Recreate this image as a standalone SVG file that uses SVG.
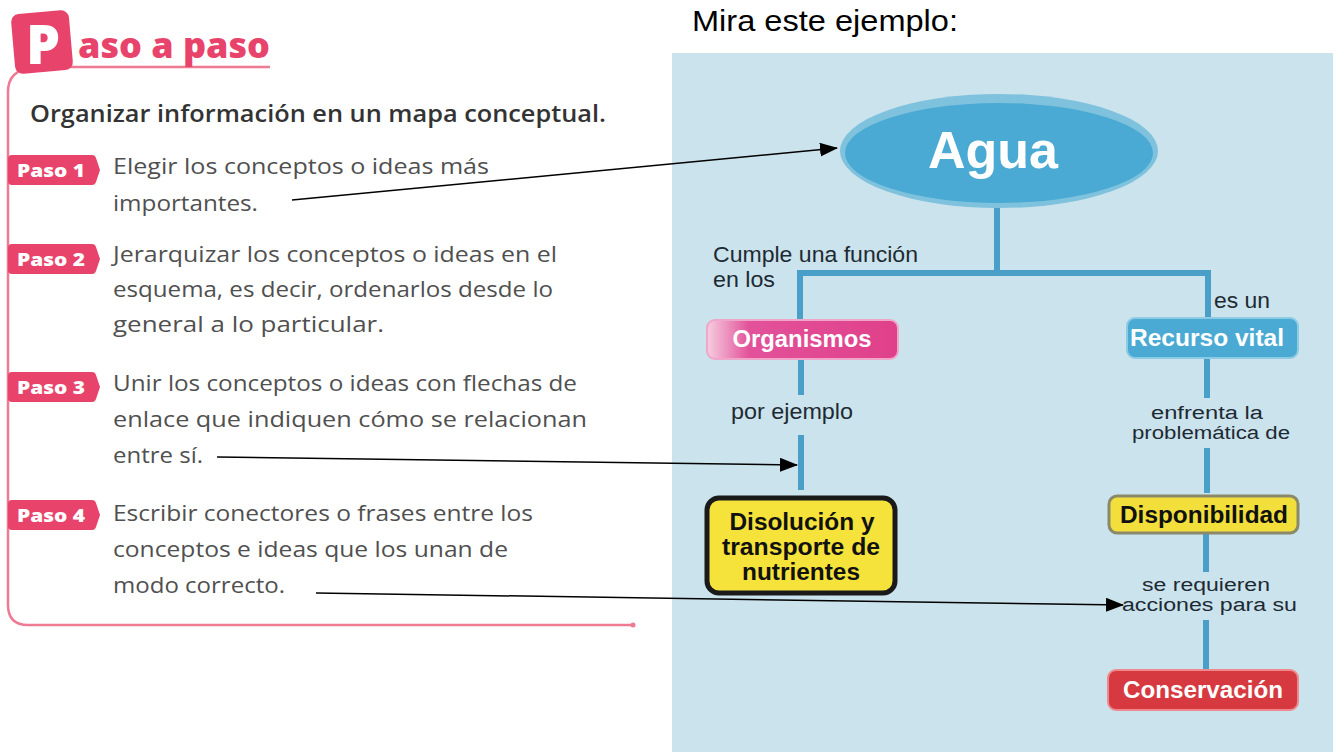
<svg xmlns="http://www.w3.org/2000/svg" width="1339" height="752" viewBox="0 0 1339 752">
<style>
.step{font-family:"Open Sans","Liberation Sans",sans-serif;font-size:22.5px;fill:#505050;}
.tagt{font-family:"Open Sans","Liberation Sans",sans-serif;font-size:18px;font-weight:800;fill:#fff;}
.lbl{font-family:"Liberation Sans",Arial,sans-serif;font-size:22px;fill:#1e2a33;}
.lbl2{font-family:"Liberation Sans",Arial,sans-serif;font-size:18px;fill:#1e2a33;}
.nodet{font-family:"Liberation Sans",Arial,sans-serif;font-size:23px;font-weight:bold;text-anchor:middle;}
.blue{stroke:#4a9fc9;stroke-width:6;fill:none;}
.arrow{stroke:#000;stroke-width:1.5;fill:none;marker-end:url(#ah);}
.tag{fill:#e8436b;}
</style>
<defs>
<marker id="ah" markerUnits="userSpaceOnUse" markerWidth="18" markerHeight="14" refX="17" refY="7" orient="auto">
<path d="M0 0 L18 7 L0 14 Z" fill="#000"/>
</marker>
<path id="tagshape" d="M4 0 H84 Q87 0 88 3 L92 15 L88 27 Q87 30 84 30 H4 Q0 30 0 26 V4 Q0 0 4 0 Z"/>
<linearGradient id="pink" x1="0" y1="0" x2="1" y2="0">
<stop offset="0" stop-color="#f6cde0"/>
<stop offset="0.22" stop-color="#e2529a"/>
<stop offset="1" stop-color="#e0408a"/>
</linearGradient>
</defs>
<rect width="1339" height="752" fill="#fff"/>

<g id="left-panel">
<path d="M32 68 Q8 70 8 92 L8 605 Q8 625 28 625 L633 625" fill="none" stroke="#ee7b93" stroke-width="2.5"/>
<circle cx="633" cy="625" r="2.5" fill="#ee7b93"/>
<line x1="70" y1="67" x2="270" y2="67" stroke="#ee7b93" stroke-width="2.5"/>
<rect x="13" y="12" width="58" height="60" rx="8" fill="#e8436b" transform="rotate(-5 42 42)"/>
<text x="43" y="64" font-family="'Open Sans','Liberation Sans',sans-serif" font-size="54" font-weight="800" fill="#fff" text-anchor="middle">P</text>
<text x="78" y="58" font-family="'Open Sans','Liberation Sans',sans-serif" font-size="35" font-weight="800" fill="#e8436b" textLength="192" lengthAdjust="spacingAndGlyphs">aso a paso</text>
<text x="30" y="122" font-family="'Open Sans','Liberation Sans',sans-serif" font-size="24" font-weight="600" fill="#333" textLength="576" lengthAdjust="spacingAndGlyphs">Organizar información en un mapa conceptual.</text>
</g>

<g id="paso1">
<use href="#tagshape" x="8" y="155" class="tag"/>
<text x="17" y="177" class="tagt" textLength="68" lengthAdjust="spacingAndGlyphs">Paso 1</text>
<text x="113" y="174" class="step" textLength="376" lengthAdjust="spacingAndGlyphs">Elegir los conceptos o ideas más</text>
<text x="113" y="211" class="step" textLength="145" lengthAdjust="spacingAndGlyphs">importantes.</text>
</g>
<g id="paso2">
<use href="#tagshape" x="8" y="244" class="tag"/>
<text x="17" y="266" class="tagt" textLength="68" lengthAdjust="spacingAndGlyphs">Paso 2</text>
<text x="113" y="262" class="step" textLength="444" lengthAdjust="spacingAndGlyphs">Jerarquizar los conceptos o ideas en el</text>
<text x="113" y="297" class="step" textLength="440" lengthAdjust="spacingAndGlyphs">esquema, es decir, ordenarlos desde lo</text>
<text x="113" y="332" class="step" textLength="271" lengthAdjust="spacingAndGlyphs">general a lo particular.</text>
</g>
<g id="paso3">
<use href="#tagshape" x="8" y="372" class="tag"/>
<text x="17" y="394" class="tagt" textLength="68" lengthAdjust="spacingAndGlyphs">Paso 3</text>
<text x="113" y="391" class="step" textLength="464" lengthAdjust="spacingAndGlyphs">Unir los conceptos o ideas con flechas de</text>
<text x="113" y="427" class="step" textLength="474" lengthAdjust="spacingAndGlyphs">enlace que indiquen cómo se relacionan</text>
<text x="113" y="463" class="step" textLength="90" lengthAdjust="spacingAndGlyphs">entre sí.</text>
</g>
<g id="paso4">
<use href="#tagshape" x="8" y="500" class="tag"/>
<text x="17" y="522" class="tagt" textLength="68" lengthAdjust="spacingAndGlyphs">Paso 4</text>
<text x="113" y="521" class="step" textLength="420" lengthAdjust="spacingAndGlyphs">Escribir conectores o frases entre los</text>
<text x="113" y="557" class="step" textLength="395" lengthAdjust="spacingAndGlyphs">conceptos e ideas que los unan de</text>
<text x="113" y="593" class="step" textLength="172" lengthAdjust="spacingAndGlyphs">modo correcto.</text>
</g>

<g id="right-panel">
<text x="692" y="31" font-family="'Liberation Sans',Arial,sans-serif" font-size="30" fill="#000" textLength="266" lengthAdjust="spacingAndGlyphs">Mira este ejemplo:</text>
<rect x="672" y="53" width="661" height="699" fill="#cbe3ec"/>
</g>

<g id="connectors">
<path class="blue" d="M997 205 V273 M800 320 V273 H1208 V320"/>
<path class="blue" d="M801 359 V395 M801 435 V490"/>
<path class="blue" d="M1207 358 V398 M1207 448 V493 M1206 533 V572 M1206 620 V670"/>
<line class="arrow" x1="292" y1="200" x2="837" y2="148"/>
<line class="arrow" x1="217" y1="457" x2="797" y2="465"/>
<line class="arrow" x1="316" y1="593" x2="1123" y2="605"/>
</g>

<g id="labels">
<text x="713" y="262" class="lbl" textLength="205" lengthAdjust="spacingAndGlyphs">Cumple una función</text>
<text x="713" y="287" class="lbl" textLength="62" lengthAdjust="spacingAndGlyphs">en los</text>
<text x="731" y="419" class="lbl" textLength="122" lengthAdjust="spacingAndGlyphs">por ejemplo</text>
<text x="1214" y="308" class="lbl" textLength="56" lengthAdjust="spacingAndGlyphs">es un</text>
<text x="1151" y="419" class="lbl2" textLength="112" lengthAdjust="spacingAndGlyphs">enfrenta la</text>
<text x="1132" y="439" class="lbl2" textLength="158" lengthAdjust="spacingAndGlyphs">problemática de</text>
<text x="1142" y="591" class="lbl2" textLength="128" lengthAdjust="spacingAndGlyphs">se requieren</text>
<text x="1122" y="611" class="lbl2" textLength="175" lengthAdjust="spacingAndGlyphs">acciones para su</text>
</g>

<g id="node-agua">
<ellipse cx="999" cy="151" rx="159" ry="57" fill="#7fc2de"/>
<ellipse cx="999" cy="153" rx="154" ry="50" fill="#4aaad3"/>
<text x="993" y="168" font-family="'Liberation Sans',Arial,sans-serif" font-size="52" font-weight="bold" fill="#fff" text-anchor="middle">Agua</text>
</g>
<g id="node-organismos">
<rect x="707" y="320" width="191" height="39" rx="8" fill="url(#pink)" stroke="#f0a6c8" stroke-width="2"/>
<text x="802" y="347" class="nodet" fill="#fff" textLength="139" lengthAdjust="spacingAndGlyphs">Organismos</text>
</g>
<g id="node-disolucion">
<rect x="707" y="498" width="188" height="95" rx="12" fill="#f5e23a" stroke="#1a1a1a" stroke-width="5"/>
<text x="802" y="530" class="nodet" fill="#111" textLength="145" lengthAdjust="spacingAndGlyphs">Disolución y</text>
<text x="801" y="555" class="nodet" fill="#111" textLength="158" lengthAdjust="spacingAndGlyphs">transporte de</text>
<text x="801" y="580" class="nodet" fill="#111" textLength="118" lengthAdjust="spacingAndGlyphs">nutrientes</text>
</g>
<g id="node-recurso">
<rect x="1127" y="318" width="171" height="40" rx="8" fill="#4aaad3" stroke="#8ccbe3" stroke-width="2"/>
<text x="1207" y="346" class="nodet" fill="#fff" textLength="154" lengthAdjust="spacingAndGlyphs">Recurso vital</text>
</g>
<g id="node-disponibilidad">
<rect x="1109" y="496" width="189" height="37" rx="8" fill="#f2df3c" stroke="#8a8a6a" stroke-width="3"/>
<text x="1204" y="523" class="nodet" fill="#111" textLength="168" lengthAdjust="spacingAndGlyphs">Disponibilidad</text>
</g>
<g id="node-conservacion">
<rect x="1108" y="670" width="190" height="40" rx="8" fill="#d63a40" stroke="#ee8a8e" stroke-width="2"/>
<text x="1203" y="698" class="nodet" fill="#fff" textLength="160" lengthAdjust="spacingAndGlyphs">Conservación</text>
</g>
</svg>
